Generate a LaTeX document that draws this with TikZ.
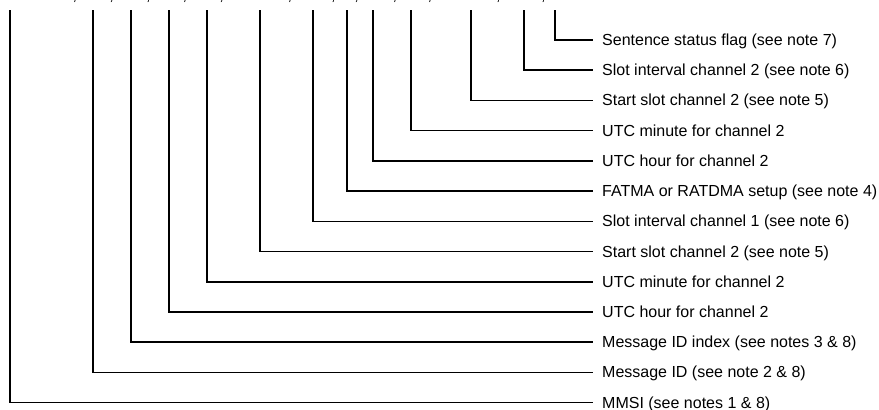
\documentclass[tikz,border=0pt]{standalone}
\usepackage{fontspec}
\setmainfont{Liberation Sans}
\begin{document}
\begin{tikzpicture}[x=1pt,y=-1pt,
  lbl/.style={anchor=west, inner xsep=9pt, inner ysep=0pt, text height=11pt, text depth=0pt, font=\fontsize{16}{19}\selectfont},
  conn/.style={line width=1.6pt, line join=miter},
  commamark/.style={anchor=base west, inner sep=0pt, font=\fontsize{16}{19}\selectfont}]
\useasboundingbox (0,0) rectangle (879,410);
\foreach \k/\x/\t in {
  0/555/Sentence status flag (see note 7),
  1/524/Slot interval channel 2 (see note 6),
  2/471/Start slot channel 2 (see note 5),
  3/411/UTC minute for channel 2,
  4/373/UTC hour for channel 2,
  5/347/FATMA or RATDMA setup (see note 4),
  6/313/Slot interval channel 1 (see note 6),
  7/260/Start slot channel 2 (see note 5),
  8/207/UTC minute for channel 2,
  9/169/UTC hour for channel 2,
  10/131/Message ID index (see notes 3 \& 8),
  11/93/Message ID (see note 2 \& 8),
  12/10/MMSI (see notes 1 \& 8)} {
  \node[lbl] (l\k) at (593,{40+30.22*\k}) {\t};
  \coordinate (t\k) at (\x,10);
  \draw[conn] (t\k) |- (l\k.west);
}
\foreach \i/\x in {1/75,2/111.7,3/148.3,4/185,5/221.7,6/290,7/333.3,8/356.7,9/395,10/430,11/498.3,12/543.3} {
  \node[commamark] (c\i) at ({\x-2.5},0.3) {,};
}
\end{tikzpicture}
\end{document}
